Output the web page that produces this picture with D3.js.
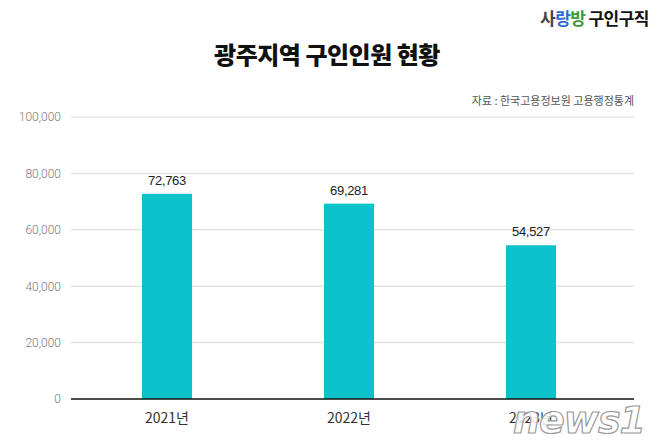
<!DOCTYPE html>
<html><head><meta charset="utf-8">
<script src="https://cdn.jsdelivr.net/npm/d3@7"></script>
<style>body{margin:0;background:#fff}svg{display:block;font-family:"Noto Sans CJK KR","Noto Sans",sans-serif}</style>
</head><body><svg id="c" width="658" height="444"></svg>
<script>
const categories = ["2021년", "2022년", "2023년"];
const values = [72763, 69281, 54527];
const yTicks = [0, 20000, 40000, 60000, 80000, 100000];
const title = "광주지역 구인인원 현황";
const source = "자료 : 한국고용정보원 고용행정통계";
const watermark = "news1";

const svg = d3.select("#c");
const W = 658, H = 444;
svg.append("rect").attr("width", W).attr("height", H).attr("fill", "#fff");

const y = d3.scaleLinear().domain([0, 100000]).range([399, 117]);
const x = d3.scaleBand().domain(categories).range([68, 630]).paddingInner(0.725).paddingOuter(0.4065);
const gx0 = 71, gx1 = 634;

// grid
svg.append("g").selectAll("line").data(yTicks.filter(d => d > 0)).join("line")
  .attr("x1", gx0).attr("x2", gx1).attr("y1", d => y(d)).attr("y2", d => y(d))
  .attr("stroke", "#e4e4e4").attr("stroke-width", 1.5);

// y tick labels
svg.append("g").selectAll("text").data(yTicks).join("text")
  .attr("x", 61).attr("y", d => y(d)).attr("dy", "0.36em")
  .attr("text-anchor", "end").attr("font-size", 12).attr("fill", "#7a7a7a")
  .attr("font-family", "Roboto, 'Noto Sans', sans-serif").attr("font-weight", 300)
  .text(d => d3.format(",")(d));

// bars
svg.append("g").selectAll("rect").data(values).join("rect")
  .attr("x", (d, i) => x(categories[i])).attr("width", x.bandwidth())
  .attr("y", d => y(d)).attr("height", d => y(0) - y(d))
  .attr("fill", "#0cc3cc");

// baseline
svg.append("line").attr("x1", gx0).attr("x2", gx1).attr("y1", y(0)).attr("y2", y(0))
  .attr("stroke", "#111").attr("stroke-width", 1.6);

// value labels
svg.append("g").selectAll("text").data(values).join("text")
  .attr("x", (d, i) => x(categories[i]) + x.bandwidth() / 2).attr("y", d => y(d) - 9)
  .attr("text-anchor", "middle").attr("font-size", 13).attr("fill", "#222")
  .attr("font-family", "'Liberation Sans', Arial, sans-serif").attr("letter-spacing", -0.3)
  .text(d => d3.format(",")(d));

// category labels
svg.append("g").selectAll("text").data(categories).join("text")
  .attr("x", d => x(d) + x.bandwidth() / 2).attr("y", 423)
  .attr("text-anchor", "middle").attr("font-size", 14).attr("fill", "#333")
  .text(d => d);

// title
svg.append("text").attr("x", 327).attr("y", 64).attr("text-anchor", "middle")
  .attr("font-size", 24).attr("font-weight", 900).attr("fill", "#111").attr("letter-spacing", -0.5)
  .text(title);

// source
svg.append("text").attr("x", 634).attr("y", 105).attr("text-anchor", "end")
  .attr("font-size", 11).attr("fill", "#555").text(source);

// logo
const logo = svg.append("text").attr("x", 540).attr("y", 25).attr("font-size", 17).attr("font-weight", 700).attr("letter-spacing", -0.5);
logo.append("tspan").attr("fill", "#444").text("사");
logo.append("tspan").attr("fill", "#2a6bd1").text("랑");
logo.append("tspan").attr("fill", "#3a9a3a").text("방");
logo.append("tspan").attr("fill", "#111").attr("dx", 3).text("구인구직");

// watermark
svg.append("text").attr("x", 645).attr("y", 433).attr("text-anchor", "end")
  .attr("font-size", 38).attr("font-style", "italic").attr("font-weight", 700)
  .attr("font-family", "'DejaVu Sans', sans-serif").attr("letter-spacing", -1)
  .attr("fill", "rgba(255,255,255,0.85)").attr("stroke", "#9a9a9a").attr("stroke-width", 1.2)
  .text(watermark);
</script></body></html>
